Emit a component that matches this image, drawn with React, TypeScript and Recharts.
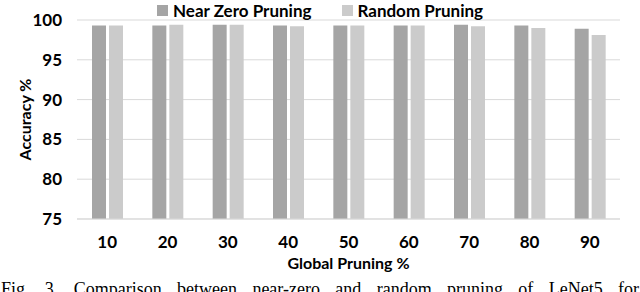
import React from "react";
import { Bar, BarChart, CartesianGrid, XAxis, YAxis } from "recharts";

const pruningLevels = ["10", "20", "30", "40", "50", "60", "70", "80", "90"];
const nearZeroAcc = [99.3, 99.3, 99.4, 99.3, 99.3, 99.3, 99.4, 99.3, 98.9];
const randomAcc = [99.3, 99.4, 99.4, 99.2, 99.3, 99.3, 99.2, 99.0, 98.1];
const yTicks = [75, 80, 85, 90, 95, 100];

const data = pruningLevels.map((level, i) => ({
  level,
  nearZero: nearZeroAcc[i],
  random: randomAcc[i],
}));

const DARK = "#a5a5a5";
const LIGHT = "#cbcbcb";
const FONT = "Lato, 'Open Sans', sans-serif";

const LegendContent = () => (
  <div
    style={{
      position: "absolute",
      left: 157,
      top: 0,
      height: 20,
      display: "flex",
      alignItems: "center",
      fontFamily: FONT,
      fontWeight: 700,
      fontSize: 17,
      color: "#000",
      whiteSpace: "nowrap",
    }}
  >
    <span style={{ width: 11, height: 11, background: DARK, display: "inline-block", marginRight: 5 }} />
    <span>Near Zero Pruning</span>
    <span style={{ width: 11, height: 11, background: LIGHT, display: "inline-block", marginLeft: 31, marginRight: 4 }} />
    <span>Random Pruning</span>
  </div>
);

export default function App() {
  return (
    <div style={{ position: "fixed", left: 0, top: 0, width: 640, height: 292, overflow: "hidden", background: "#fff" }}>
      <BarChart
        width={640}
        height={275}
        data={data}
        margin={{ top: 20, right: 20, left: 0, bottom: 0 }}
        barSize={14}
        barGap={3}
      >
        <CartesianGrid stroke="#d9d9d9" vertical={false} />
        <XAxis
          dataKey="level"
          height={56}
          tickSize={0}
          tickMargin={17}
          axisLine={{ stroke: "#d9d9d9" }}
          tick={{ fontFamily: FONT, fontWeight: 700, fontSize: 17, fill: "#000" }}
          label={{
            value: "Global Pruning %",
            position: "insideBottom",
            offset: 6,
            style: { fontFamily: FONT, fontWeight: 700, fontSize: 16, fill: "#000" },
          }}
        />
        <YAxis
          width={77}
          domain={[75, 100]}
          ticks={yTicks}
          tickSize={0}
          tickMargin={15}
          axisLine={false}
          tick={{ fontFamily: FONT, fontWeight: 700, fontSize: 17, fill: "#000" }}
          label={{
            value: "Accuracy %",
            angle: -90,
            position: "insideLeft",
            offset: 25,
            style: { textAnchor: "middle", fontFamily: FONT, fontWeight: 700, fontSize: 16, fill: "#000" },
          }}
        />
        <Bar dataKey="nearZero" name="Near Zero Pruning" fill={DARK} isAnimationActive={false} />
        <Bar dataKey="random" name="Random Pruning" fill={LIGHT} isAnimationActive={false} />
      </BarChart>
      <LegendContent />
      <div
        style={{
          position: "absolute",
          left: 1,
          top: 280,
          width: 638,
          fontFamily: "'Liberation Serif', 'Times New Roman', serif",
          fontSize: 18,
          lineHeight: "18px",
          textAlign: "justify",
          textAlignLast: "justify",
          whiteSpace: "nowrap",
        }}
      >
        Fig. 3. Comparison between near-zero and random pruning of LeNet5 for
      </div>
    </div>
  );
}
